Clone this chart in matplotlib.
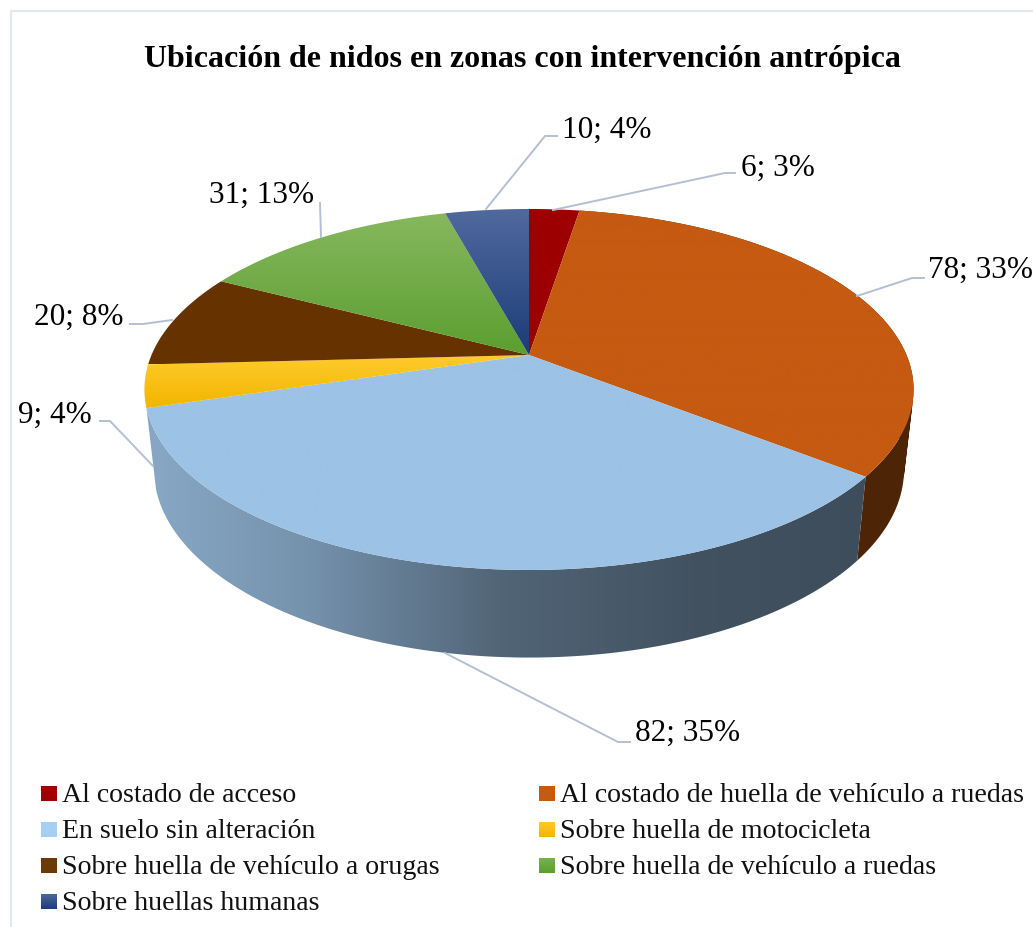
import numpy as np
import matplotlib
matplotlib.use("Agg")
import matplotlib.pyplot as plt
from matplotlib.colors import to_rgb
from matplotlib.patches import Polygon, PathPatch
from matplotlib.path import Path

plt.rcParams['font.family'] = ['Liberation Serif', 'DejaVu Serif']

# data, in chart order (clockwise from the top)
categories = ["Al costado de acceso",
              "Al costado de huella de vehículo a ruedas",
              "En suelo sin alteración",
              "Sobre huella de motocicleta",
              "Sobre huella de vehículo a orugas",
              "Sobre huella de vehículo a ruedas",
              "Sobre huellas humanas"]
counts = [6, 78, 82, 9, 20, 31, 10]
percents = [3, 33, 35, 4, 8, 13, 4]
title = "Ubicación de nidos en zonas con intervención antrópica"

# styles: top and bottom colour of each slice
top_colors = ["#9c0000", "#c55a11", "#9cc2e5", "#ffcb2e", "#663300", "#86b85e", "#506a9e"]
bot_colors = ["#9c0000", "#c55a11", "#9cc2e5", "#f2b600", "#663300", "#5c9e30", "#1c3c78"]
legend_top = ["#a00000", "#c55a11", "#a6cff3", "#ffcb2e", "#6b3a05", "#79b350", "#506a9e"]
legend_bot = ["#a00000", "#c55a11", "#a6cff3", "#f2b600", "#6b3a05", "#5c9e30", "#1c3c78"]

# layout, figure pixels
cx, cy = 529, 355
fx, fy, persp = 377.5, 173.9, 0.191
label_pos = [(741, 168), (928, 270), (635, 733), (18, 415), (34, 317), (209, 195), (562, 130)]
leaders = [[(735, 173), (725, 173), (553, 210)],
           [(924, 278), (912, 278), (857, 296)],
           [(630, 742), (618, 742), (445, 653)],
           [(100, 421), (110, 421), (153, 466)],
           [(130, 324), (143, 324), (172, 320)],
           [(320, 203), (321, 237)],
           [(557, 136), (545, 136), (486, 209)]]
legend_x = [41, 539]
legend_y = [793, 829, 865, 901]
shade_x = [155, 300, 500, 700, 860]
shade_v = [0.86, 0.76, 0.52, 0.42, 0.40]
# only these slices show their side from this view
visible_walls = [1, 2]


def top_pts(deg):
    # circle in perspective, angle clockwise from the back
    t = np.radians(deg)
    w = 1 + persp * np.cos(t)
    return cx + fx * np.sin(t) / w, cy - fy * np.cos(t) / w


def bottom_pts(deg):
    x, y = top_pts(deg)
    return cx + 0.975 * (x - cx), cy + 79 + 1.04 * (y - cy)


def clip_image(ax, img, patch, zorder):
    # image clipped to a patch
    verts = patch.get_path().vertices
    x0, x1 = verts[:, 0].min(), verts[:, 0].max()
    y0, y1 = verts[:, 1].min(), verts[:, 1].max()
    im = ax.imshow(img, extent=(x0, x1, y1, y0), aspect='auto', zorder=zorder,
                   interpolation='bilinear')
    ax.add_patch(patch)
    im.set_clip_path(patch)


def gradient_fill(ax, poly, c1, c2, zorder):
    ramp = np.linspace(0, 1, 64)[:, None, None]
    img = (1 - ramp) * np.array(to_rgb(c1)) + ramp * np.array(to_rgb(c2))
    patch = Polygon(poly, closed=True, transform=ax.transData, fc='none', ec='none')
    clip_image(ax, img, patch, zorder)


def wall_path(deg0, deg1):
    # side of a slice as one path of small quads, all turning the same way
    a = np.linspace(deg0, deg1, 200)
    xt, yt = top_pts(a)
    xb, yb = bottom_pts(a)
    quads = []
    for k in range(len(a) - 1):
        q = np.array([(xt[k], yt[k]), (xt[k + 1], yt[k + 1]),
                      (xb[k + 1], yb[k + 1]), (xb[k], yb[k])])
        area = np.sum(q[:, 0] * np.roll(q[:, 1], -1) - np.roll(q[:, 0], -1) * q[:, 1])
        if area < 0:
            q = q[::-1]
        quads.append(Path(np.vstack([q, q[:1]]), closed=True))
    return Path.make_compound_path(*quads)


fig = plt.figure(figsize=(10.33, 9.27), dpi=100, facecolor='white')
ax = fig.add_axes([0, 0, 1, 1])
ax.axis('off')

edges = np.concatenate([[0], np.cumsum(counts)]) / sum(counts) * 360

# chart border
ax.plot([10.5, 10.5, 1033], [927, 11, 11], color='#e3e7ee', lw=1.6, zorder=1)

# side walls first, top faces cover the rest
for i in visible_walls:
    path = wall_path(edges[i], edges[i + 1])
    patch = PathPatch(path, transform=ax.transData, fc='none', ec='none')
    xs = np.linspace(path.vertices[:, 0].min(), path.vertices[:, 0].max(), 128)
    shade = np.interp(xs, shade_x, shade_v)[None, :, None]
    clip_image(ax, shade * np.array(to_rgb(bot_colors[i])), patch, 2 + i * 0.01)

# top faces
for i in range(len(counts)):
    a = np.linspace(edges[i], edges[i + 1], 200)
    x, y = top_pts(a)
    poly = np.column_stack([np.r_[cx, x], np.r_[cy, y]])
    gradient_fill(ax, poly, top_colors[i], bot_colors[i], 3)

# data labels
for i in range(len(counts)):
    ax.plot(*zip(*leaders[i]), color='#b4c0d2', lw=1.4, zorder=4, solid_joinstyle='round')
    ax.text(label_pos[i][0], label_pos[i][1], f"{counts[i]}; {percents[i]}%", fontsize=22.5,
            va='center', ha='left', color='black', zorder=5)

ax.text(522.5, 59, title, fontsize=23, fontweight='bold', ha='center', va='center')

# legend, filled row by row
for i, name in enumerate(categories):
    lx = legend_x[i % 2]
    ly = legend_y[i // 2]
    sw = np.array([(lx, ly - 7.5), (lx + 16, ly - 7.5), (lx + 16, ly + 8), (lx, ly + 8)])
    gradient_fill(ax, sw, legend_top[i], legend_bot[i], 3)
    ax.text(lx + 21, ly + 2.5, name, fontsize=20.1, ha='left', va='center', color='#111111')

ax.set_xlim(0, 1033)
ax.set_ylim(927, 0)

fig.savefig("out.png", dpi=100)
